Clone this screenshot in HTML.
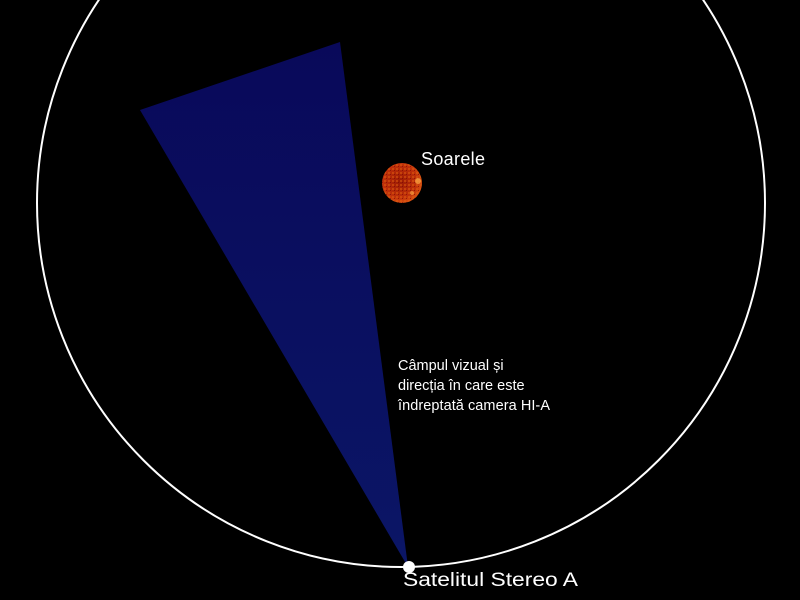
<!DOCTYPE html>
<html><head><meta charset="utf-8"><style>
html,body{margin:0;padding:0;background:#000;width:800px;height:600px;overflow:hidden}
svg{display:block}
text{font-family:"Liberation Sans",sans-serif;fill:#fff}
</style></head><body>
<svg width="800" height="600" viewBox="0 0 800 600">
<defs>
<linearGradient id="g" x1="0" y1="0" x2="0" y2="1">
<stop offset="0" stop-color="#09095a"/>
<stop offset="1" stop-color="#0b1666"/>
</linearGradient>
<radialGradient id="s" cx="0.45" cy="0.45" r="0.6">
<stop offset="0" stop-color="#9a1a04"/>
<stop offset="0.7" stop-color="#c0300a"/>
<stop offset="1" stop-color="#e05a14"/>
</radialGradient>
<pattern id="m" width="4" height="4" patternUnits="userSpaceOnUse">
<rect width="2" height="2" fill="#e06010" opacity="0.5"/>
<rect x="2" y="2" width="1" height="1" fill="#700a00" opacity="0.6"/>
</pattern>
</defs>
<rect width="800" height="600" fill="#000"/>
<polygon points="140,110 340,42 408,567" fill="url(#g)"/>
<circle cx="401" cy="203" r="364" fill="none" stroke="#fff" stroke-width="2"/>
<circle cx="402" cy="183" r="20" fill="url(#s)"/>
<circle cx="402" cy="183" r="20" fill="url(#m)"/>
<circle cx="418" cy="181" r="3" fill="#f8a040" opacity="0.8"/>
<circle cx="412" cy="193" r="2" fill="#f8a040" opacity="0.7"/>
<circle cx="409" cy="567" r="6" fill="#fff"/>
<text x="421" y="165" font-size="18" textLength="64">Soarele</text>
<text x="398" y="370" font-size="14.5">Câmpul vizual și</text>
<text x="398" y="390" font-size="14.5">direcția în care este</text>
<text x="398" y="410" font-size="14.5" textLength="152">îndreptată camera HI-A</text>
<text x="403" y="586" font-size="19" textLength="175" lengthAdjust="spacingAndGlyphs">Satelitul Stereo A</text>
</svg>
</body></html>
